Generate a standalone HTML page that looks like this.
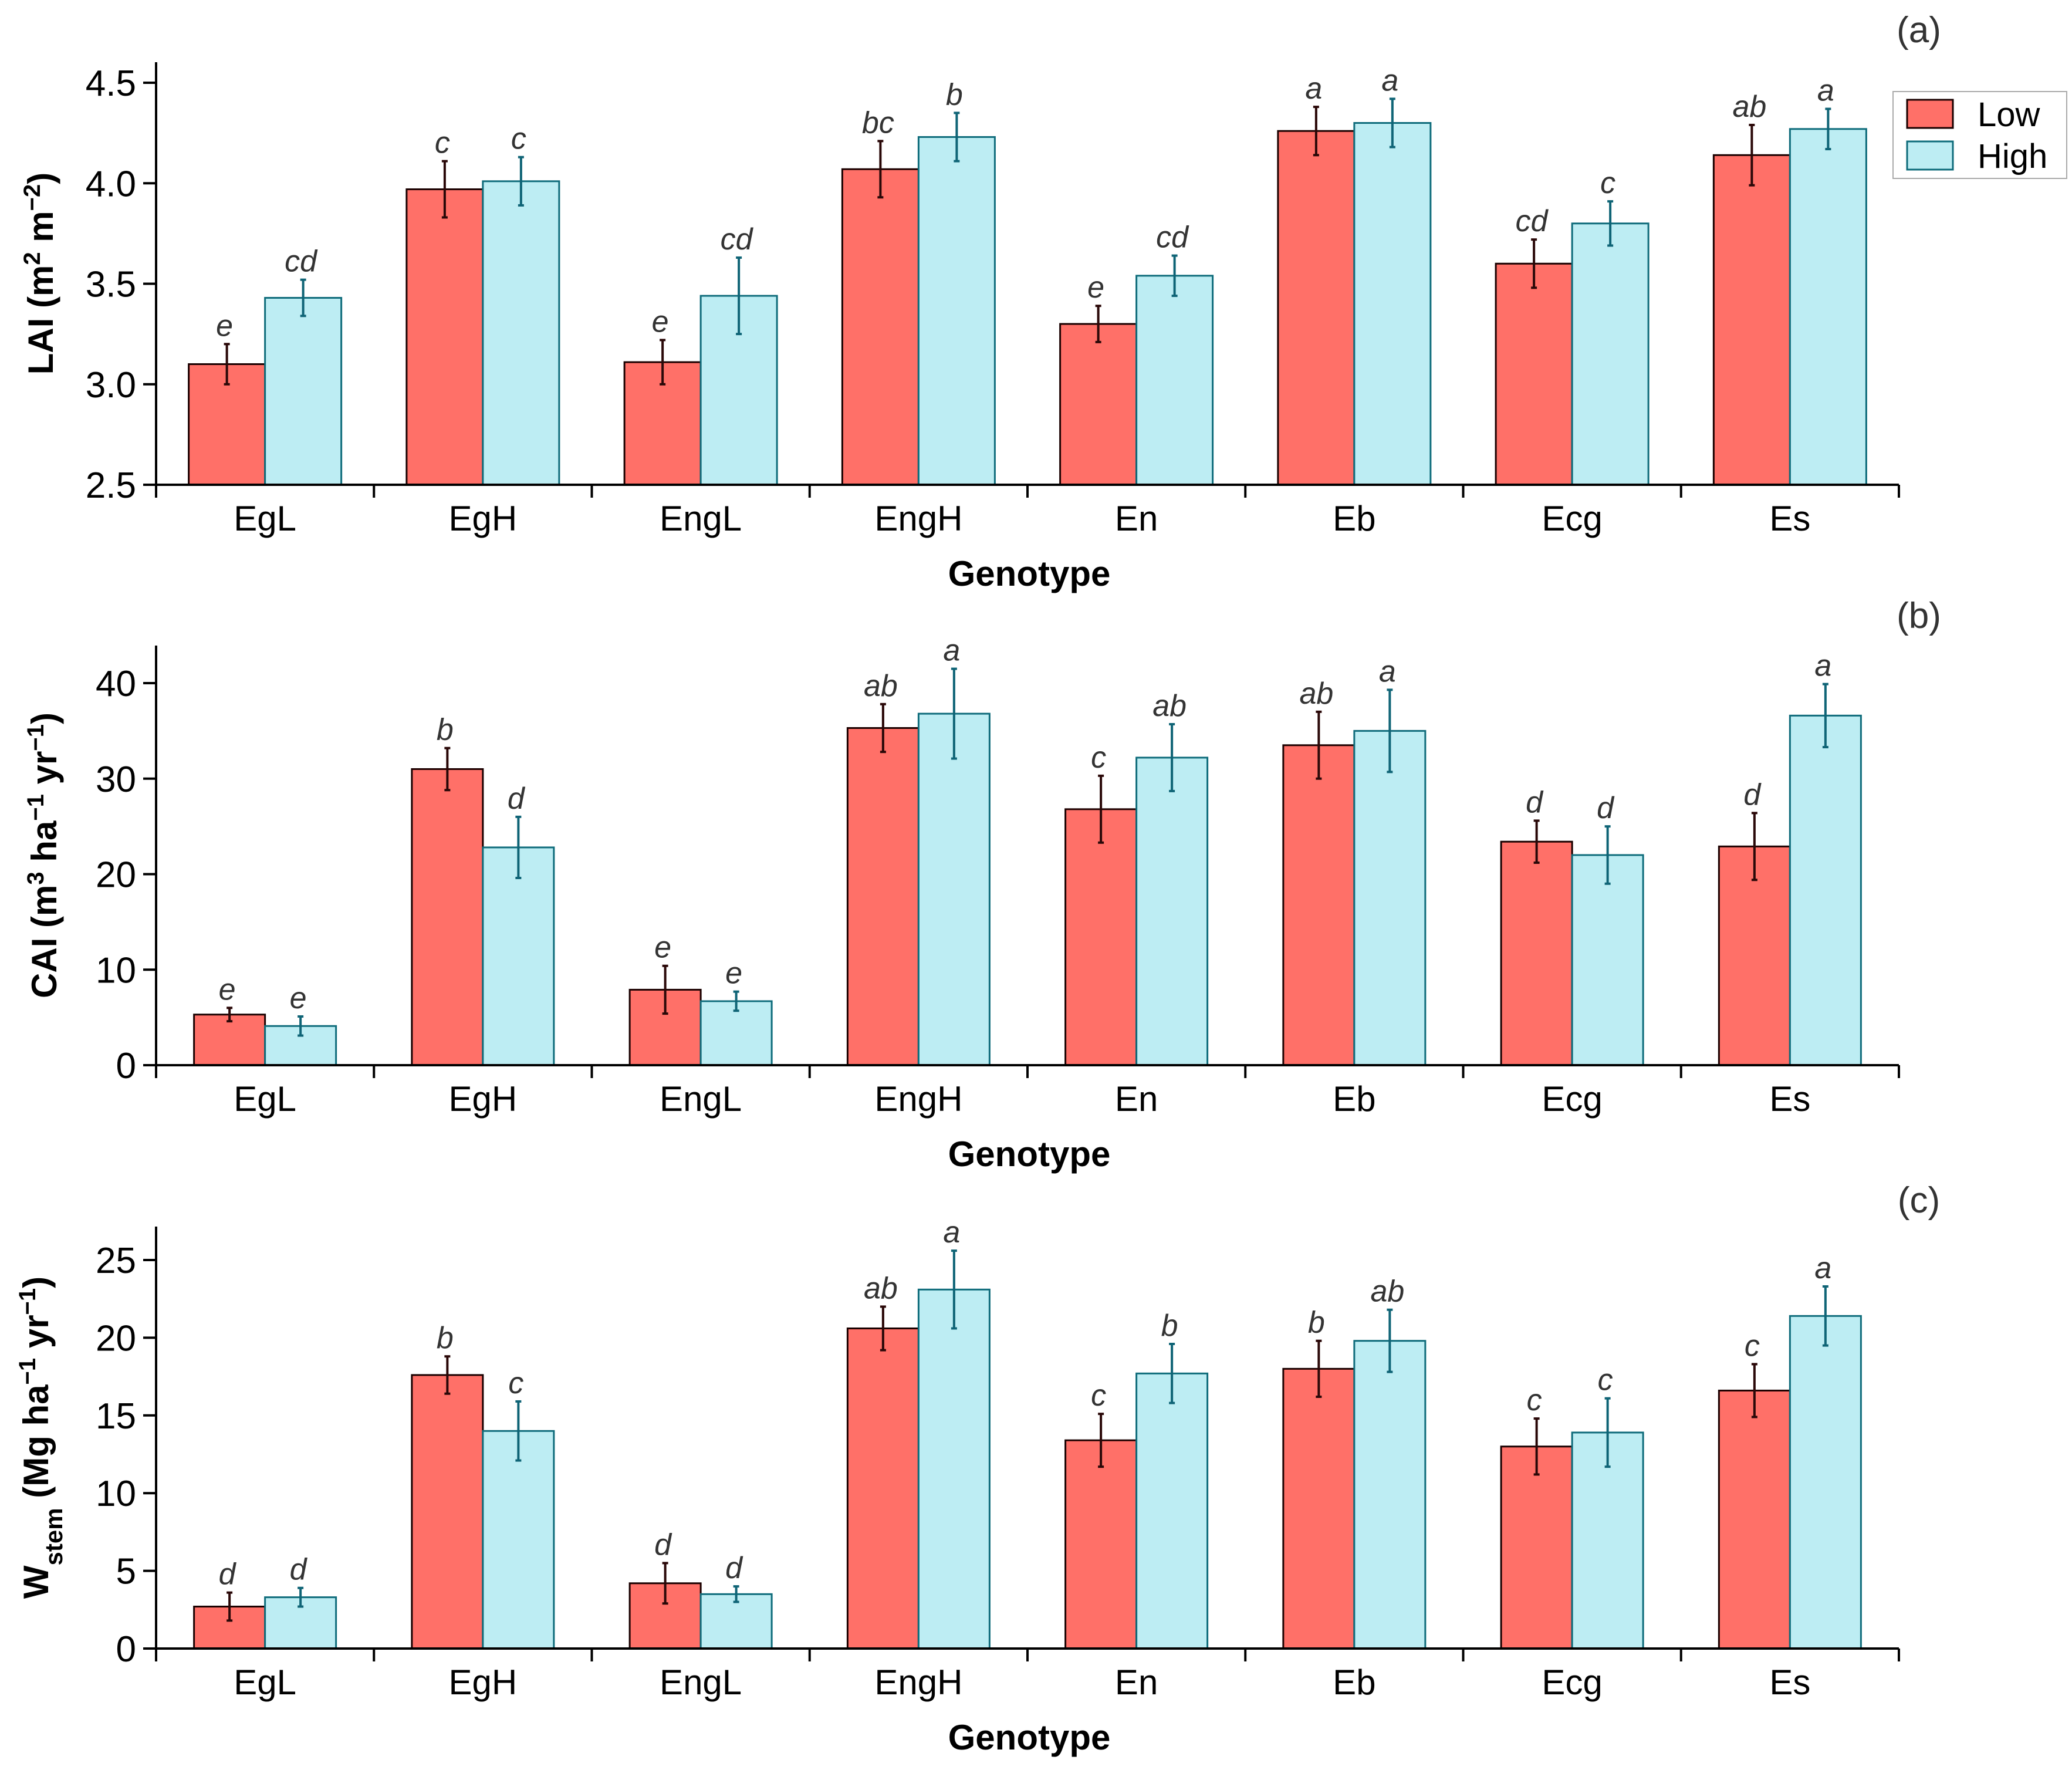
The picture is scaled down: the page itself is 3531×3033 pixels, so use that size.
<!DOCTYPE html>
<html><head><meta charset="utf-8">
<style>
html,body{margin:0;padding:0;background:#fff;}
svg{display:block;font-family:"Liberation Sans",Arial,sans-serif;}
</style></head>
<body>
<svg id="chart" width="3531" height="3033" viewBox="0 0 3531 3033" xmlns="http://www.w3.org/2000/svg"></svg>
<script>
const categories = ["EgL","EgH","EngL","EngH","En","Eb","Ecg","Es"];
const laiLow = [3.10,3.97,3.11,4.07,3.30,4.26,3.60,4.14];
const laiLowErr = [0.10,0.14,0.11,0.14,0.09,0.12,0.12,0.15];
const laiHigh = [3.43,4.01,3.44,4.23,3.54,4.30,3.80,4.27];
const laiHighErr = [0.09,0.12,0.19,0.12,0.10,0.12,0.11,0.10];
const laiLowLet = ["e","c","e","bc","e","a","cd","ab"];
const laiHighLet = ["cd","c","cd","b","cd","a","c","a"];
const laiTicks = [2.5,3.0,3.5,4.0,4.5];
const laiTickLabels = ["2.5","3.0","3.5","4.0","4.5"];

const caiLow = [5.3,31.0,7.9,35.3,26.8,33.5,23.4,22.9];
const caiLowErr = [0.7,2.2,2.5,2.5,3.5,3.5,2.2,3.5];
const caiHigh = [4.1,22.8,6.7,36.8,32.2,35.0,22.0,36.6];
const caiHighErr = [1.0,3.2,1.0,4.7,3.5,4.3,3.0,3.3];
const caiLowLet = ["e","b","e","ab","c","ab","d","d"];
const caiHighLet = ["e","d","e","a","ab","a","d","a"];
const caiTicks = [0,10,20,30,40];
const caiTickLabels = ["0","10","20","30","40"];

const wLow = [2.7,17.6,4.2,20.6,13.4,18.0,13.0,16.6];
const wLowErr = [0.9,1.2,1.3,1.4,1.7,1.8,1.8,1.7];
const wHigh = [3.3,14.0,3.5,23.1,17.7,19.8,13.9,21.4];
const wHighErr = [0.6,1.9,0.5,2.5,1.9,2.0,2.2,1.9];
const wLowLet = ["d","b","d","ab","c","b","c","c"];
const wHighLet = ["d","c","d","a","b","ab","c","a"];
const wTicks = [0,5,10,15,20,25];
const wTickLabels = ["0","5","10","15","20","25"];

const NS = "http://www.w3.org/2000/svg";
const svg = document.getElementById("chart");
function mk(tag, attrs, parent){
  const e = document.createElementNS(NS, tag);
  for (const k in attrs) e.setAttribute(k, attrs[k]);
  (parent||svg).appendChild(e);
  return e;
}
const X0 = 266, X1 = 3236, GW = (X1 - X0) / categories.length;

function panel(cfg){
  const g = mk("g", {});
  
  
  const y = v => cfg.yBot - (v - cfg.vMin) / (cfg.vMax - cfg.vMin) * (cfg.yBot - cfg.yTopTick);
  const bw = cfg.bw;
  categories.forEach((c, i) => {
    const cx = X0 + GW * (i + 0.5);
    const series = [
      {v: cfg.low[i], e: cfg.lowErr[i], l: cfg.lowLet[i], x: cx - bw, fill: "#FF7068", stroke: "#1a0000", ec: "#2a0808", s: "low"},
      {v: cfg.high[i], e: cfg.highErr[i], l: cfg.highLet[i], x: cx, fill: "#BDEDF3", stroke: "#0f6c7b", ec: "#0f6476", s: "high"}
    ];
    series.forEach(s => {
      const top = y(s.v);
      const r = mk("rect", {x: s.x, y: top, width: bw, height: cfg.yBot - top, fill: s.fill, stroke: s.stroke, "stroke-width": 3}, g);
      
      
      const ex = s.x + bw / 2, et = y(s.v + s.e), eb = y(s.v - s.e);
      const eg = mk("g", {stroke: s.ec, "stroke-width": 4}, g);
      
      
      mk("line", {x1: ex, x2: ex, y1: et, y2: eb}, eg);
      mk("line", {x1: ex - 5, x2: ex + 5, y1: et, y2: et}, eg);
      mk("line", {x1: ex - 5, x2: ex + 5, y1: eb, y2: eb}, eg);
      const t = mk("text", {x: ex - 4, y: et - 14, "font-size": 52, "font-style": "italic", fill: "#333", "text-anchor": "middle"}, g);
      t.textContent = s.l;
      
      
    });
    const cl = mk("text", {x: cx, y: cfg.yBot + 78, "font-size": 60, "text-anchor": "middle", fill: "#000"}, g);
    cl.textContent = c;
    
    
  });
  const ax = mk("g", {stroke: "#000", "stroke-width": 4}, g);
  
  
  mk("line", {x1: X0, x2: X0, y1: cfg.yAxisTop, y2: cfg.yBot + 22}, ax);
  mk("line", {x1: X0 - 22, x2: X1, y1: cfg.yBot, y2: cfg.yBot}, ax);
  for (let i = 1; i <= categories.length; i++) {
    const bx = X0 + GW * i;
    mk("line", {x1: bx, x2: bx, y1: cfg.yBot, y2: cfg.yBot + 22}, ax);
  }
  cfg.ticks.forEach((tv, i) => {
    const ty = y(tv);
    mk("line", {x1: X0 - 22, x2: X0, y1: ty, y2: ty}, ax);
    const t = mk("text", {x: X0 - 34, y: ty + 22, "font-size": 62, "text-anchor": "end", fill: "#000"}, g);
    t.textContent = cfg.tickLabels[i];
    
    
  });
  const xt = mk("text", {x: 1754, y: cfg.yBot + 172, "font-size": 60, "font-weight": "bold", "text-anchor": "middle", fill: "#000"}, g);
  xt.textContent = "Genotype";
  
  
  const pl = mk("text", {x: 3270, y: cfg.labelY, "font-size": 62, "text-anchor": "middle", fill: "#333"}, g);
  pl.textContent = cfg.panelLabel;
  
  
  const yt = mk("text", {x: 0, y: 0, "font-size": 60, "font-weight": "bold", "text-anchor": "middle", fill: "#000", transform: "translate(" + cfg.ytX + "," + ((cfg.yAxisTop + cfg.yBot) / 2) + ") rotate(-90)"}, g);
  yt.innerHTML = cfg.yTitle;
  
  
  return g;
}

panel({name: "panel-lai", low: laiLow, lowErr: laiLowErr, high: laiHigh, highErr: laiHighErr, lowLet: laiLowLet, highLet: laiHighLet,
  ticks: laiTicks, tickLabels: laiTickLabels, vMin: 2.5, vMax: 4.5, yBot: 826, yTopTick: 141, yAxisTop: 106, bw: 130,
  panelLabel: "(a)", labelY: 72, ytX: 90,
  yTitle: 'LAI (m<tspan baseline-shift="super" font-size="40">2</tspan> m<tspan baseline-shift="super" font-size="40">−2</tspan>)'});
panel({name: "panel-cai", low: caiLow, lowErr: caiLowErr, high: caiHigh, highErr: caiHighErr, lowLet: caiLowLet, highLet: caiHighLet,
  ticks: caiTicks, tickLabels: caiTickLabels, vMin: 0, vMax: 40, yBot: 1815, yTopTick: 1164, yAxisTop: 1100, bw: 121,
  panelLabel: "(b)", labelY: 1070, ytX: 96,
  yTitle: 'CAI (m<tspan baseline-shift="super" font-size="40">3</tspan> ha<tspan baseline-shift="super" font-size="40">−1</tspan> yr<tspan baseline-shift="super" font-size="40">−1</tspan>)'});
panel({name: "panel-wstem", low: wLow, lowErr: wLowErr, high: wHigh, highErr: wHighErr, lowLet: wLowLet, highLet: wHighLet,
  ticks: wTicks, tickLabels: wTickLabels, vMin: 0, vMax: 25, yBot: 2809, yTopTick: 2147, yAxisTop: 2090, bw: 121,
  panelLabel: "(c)", labelY: 2066, ytX: 82,
  yTitle: 'W<tspan baseline-shift="sub" font-size="42">stem</tspan> (Mg ha<tspan baseline-shift="super" font-size="40">−1</tspan> yr<tspan baseline-shift="super" font-size="40">−1</tspan>)'});

const lg = mk("g", {});


mk("rect", {x: 3226, y: 156, width: 296, height: 148, fill: "#fff", stroke: "#aaa", "stroke-width": 2}, lg);
const items = [["Low", "#FF7068", "#1a0000", 170], ["High", "#BDEDF3", "#0f6c7b", 241]];
items.forEach(it => {
  const e = mk("g", {}, lg);
  
  
  mk("rect", {x: 3250, y: it[3], width: 78, height: 48, fill: it[1], stroke: it[2], "stroke-width": 3}, e);
  const t = mk("text", {x: 3370, y: it[3] + 45, "font-size": 58, fill: "#000"}, e);
  t.textContent = it[0];
});
</script>
</body></html>
